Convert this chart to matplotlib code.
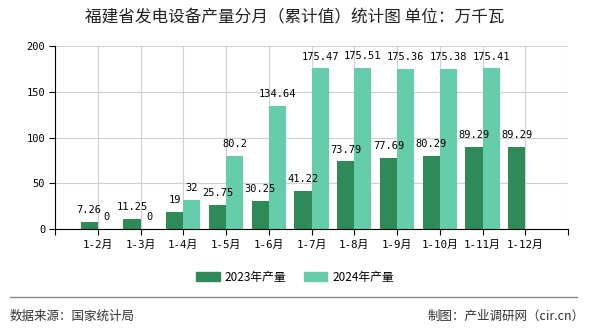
import matplotlib
matplotlib.use("Agg")
import matplotlib.pyplot as plt
from matplotlib.patches import Patch
from matplotlib.lines import Line2D

plt.rcParams['font.family'] = ['Noto Sans CJK SC', 'DejaVu Sans']

categories = ["1-2月", "1-3月", "1-4月", "1-5月", "1-6月", "1-7月", "1-8月",
              "1-9月", "1-10月", "1-11月", "1-12月"]
values_2023 = [7.26, 11.25, 19, 25.75, 30.25, 41.22, 73.79, 77.69, 80.29, 89.29, 89.29]
values_2024 = [0, 0, 32, 80.2, 134.64, 175.47, 175.51, 175.36, 175.38, 175.41, None]
label_2023 = ["7.26", "11.25", "19", "25.75", "30.25", "41.22", "73.79", "77.69", "80.29", "89.29", "89.29"]
label_2024 = ["0", "0", "32", "80.2", "134.64", "175.47", "175.51", "175.36", "175.38", "175.41", None]
series_names = ["2023年产量", "2024年产量"]
y_ticks = [0, 50, 100, 150, 200]

c1 = "#2e8b57"
c2 = "#66cdaa"
W, H = 590, 330
fig = plt.figure(figsize=(W / 100, H / 100), dpi=100)
ax = fig.add_axes([55 / W, 1 - 229 / H, (568 - 55) / W, (229 - 46) / H])

bw = 0.4
pos = [i + 1 for i in range(len(categories))]
numfont = dict(family=['DejaVu Sans Mono', 'Noto Sans CJK SC'], fontsize=7.5)

for p, v, lab in zip(pos, values_2023, label_2023):
    ax.bar(p - bw / 2, v, width=bw, color=c1, zorder=3)
    ax.annotate(lab, (p - bw / 2, v), xytext=(0, 5), textcoords="offset points",
                ha="center", va="bottom", zorder=5, **numfont)
for p, v, lab in zip(pos, values_2024, label_2024):
    if v is None:
        continue
    ax.bar(p + bw / 2, v, width=bw, color=c2, zorder=3)
    ax.annotate(lab, (p + bw / 2, v), xytext=(0, 5), textcoords="offset points",
                ha="center", va="bottom", zorder=5, **numfont)

ax.set_xlim(0, 12)
ax.set_ylim(0, 200)
ax.set_yticks(y_ticks)
ax.set_yticklabels([str(t) for t in y_ticks], **numfont)
ax.set_xticks(list(range(0, 13)))
ax.set_xticklabels([""] + categories + [""], family=['DejaVu Sans Mono', 'Noto Sans CJK SC'], fontsize=7.8)
ax.tick_params(axis='both', length=4, width=0.8, color='black', pad=3)
ax.tick_params(axis='x', pad=4)

ax.grid(True, color="#d0d0d0", linewidth=0.8, zorder=0)
ax.set_axisbelow(True)
for s in ["top", "right"]:
    ax.spines[s].set_visible(False)
ax.spines["left"].set_color("black")
ax.spines["bottom"].set_color("black")
ax.spines["left"].set_zorder(4)
ax.spines["bottom"].set_zorder(4)

fig.text(0.5, 1 - 18 / H, "福建省发电设备产量分月（累计值）统计图 单位：万千瓦",
         ha="center", va="center", fontsize=12, color="#222222")

handles = [Patch(color=c1, label=series_names[0]), Patch(color=c2, label=series_names[1])]
fig.legend(handles=handles, loc="center", bbox_to_anchor=(0.5, 1 - 277 / H), ncol=2,
           frameon=False, fontsize=8.5, handlelength=2.0, handleheight=0.9,
           columnspacing=1.5, handletextpad=0.4)

fig.add_artist(Line2D([10 / W, 577 / W], [1 - 297 / H, 1 - 297 / H], color="#888888",
                      linewidth=1.0, transform=fig.transFigure))
fig.text(10 / W, 1 - 316 / H, "数据来源：国家统计局", ha="left", va="center",
         fontsize=9, color="#333333")
fig.text(585 / W, 1 - 316 / H, "制图：产业调研网（cir.cn）", ha="right", va="center",
         fontsize=9, color="#333333")

fig.savefig("out.png", dpi=100)
